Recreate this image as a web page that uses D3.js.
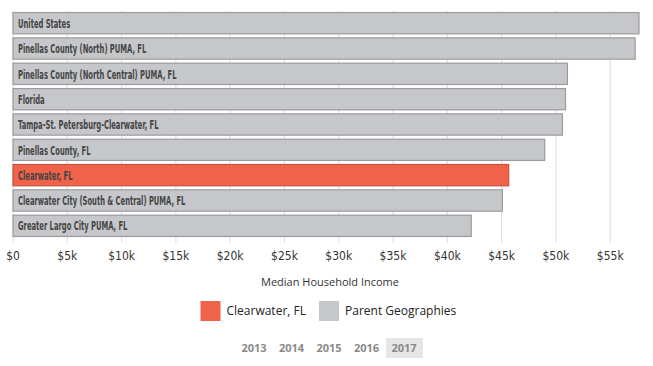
<!DOCTYPE html>
<html>
<head>
<meta charset="utf-8">
<script src="https://cdn.jsdelivr.net/npm/d3@7"></script>
<style>
  body { margin: 0; background: #fff; }
  svg { display: block; }
  .bar-label { font-family: "DejaVu Sans Condensed", sans-serif; font-size: 13px; font-weight: bold; fill: #454545; }
  .tick text { font-family: "DejaVu Sans Condensed", sans-serif; font-size: 12px; fill: #333; }
  .axis-title { font-family: "Open Sans", sans-serif; font-size: 11px; fill: #333; }
  .legend text { font-family: "Open Sans", sans-serif; font-size: 12px; fill: #222; }
  .year { font-family: "Open Sans", sans-serif; font-size: 11px; font-weight: bold; fill: #8a8a8a; }
</style>
</head>
<body>
<svg></svg>
<script>
const geographies = [
  'United States',
  'Pinellas County (North) PUMA, FL',
  'Pinellas County (North Central) PUMA, FL',
  'Florida',
  'Tampa-St. Petersburg-Clearwater, FL',
  'Pinellas County, FL',
  'Clearwater, FL',
  'Clearwater City (South & Central) PUMA, FL',
  'Greater Largo City PUMA, FL'
];
const income = [57652, 57300, 51060, 50883, 50600, 48968, 45650, 45070, 42200];
const highlight = 'Clearwater, FL';
const legendLabels = ['Clearwater, FL', 'Parent Geographies'];
const years = ['2013', '2014', '2015', '2016', '2017'];
const activeYear = '2017';

const width = 653, height = 366;
const svg = d3.select('svg').attr('width', width).attr('height', height);

const x = d3.scaleLinear().domain([0, 57652]).range([12.5, 638.5]);
const y = d3.scaleBand().domain(geographies).range([9, 240]).padding(0.12);

// gridlines + axis
const axis = svg.append('g')
  .attr('transform', 'translate(0,243)')
  .call(d3.axisBottom(x)
    .ticks(12)
    .tickSize(-232)
    .tickPadding(8)
    .tickFormat(d => d === 0 ? '$0' : '$' + d / 1000 + 'k'));
axis.select('.domain').remove();
axis.selectAll('.tick line').attr('stroke', '#e2e2e2').attr('stroke-width', 1.2);

const data = geographies.map((g, i) => ({ name: g, value: income[i] }));

svg.append('g').selectAll('rect')
  .data(data)
  .enter()
  .append('rect')
  .attr('x', x(0) + 0.5)
  .attr('y', d => y(d.name) + 0.5)
  .attr('width', d => x(d.value) - x(0))
  .attr('height', y.bandwidth() - 1)
  .attr('fill', d => d.name === highlight ? '#f0624a' : '#c6c7ca')
  .attr('stroke', d => d.name === highlight ? '#c8523d' : '#9b9b9d')
  .attr('stroke-width', 1.2);

// condensed labels: squeeze horizontally, no narrow font installed
const squeeze = 0.58;
svg.append('g')
  .attr('transform', `translate(${x(0) + 5.5},0) scale(${squeeze},1)`)
  .selectAll('text')
  .data(data)
  .enter()
  .append('text')
  .attr('class', 'bar-label')
  .attr('x', 0)
  .attr('y', d => y(d.name) + y.bandwidth() / 2)
  .attr('dy', '0.36em')
  .text(d => d.name);

svg.append('text')
  .attr('class', 'axis-title')
  .attr('x', 330)
  .attr('y', 282)
  .attr('text-anchor', 'middle')
  .attr('dy', '0.35em')
  .text('Median Household Income');

// legend
const legendColors = ['#f0624a', '#c6c7ca'];
const legendX = [200.5, 319];
const legend = svg.append('g').attr('class', 'legend');
legendLabels.forEach((l, i) => {
  legend.append('rect')
    .attr('x', legendX[i]).attr('y', 301)
    .attr('width', 20).attr('height', 20)
    .attr('fill', legendColors[i]);
  legend.append('text')
    .attr('x', legendX[i] + 26).attr('y', 311)
    .attr('dy', '0.35em')
    .text(l);
});

// year selector
const yx = d3.scalePoint().domain(years).range([254, 404]);
svg.append('rect')
  .attr('x', yx(activeYear) - 18).attr('y', 338)
  .attr('width', 37).attr('height', 20)
  .attr('fill', '#e6e6e6');
svg.append('g').selectAll('text')
  .data(years)
  .enter()
  .append('text')
  .attr('class', 'year')
  .attr('x', d => yx(d))
  .attr('y', 348)
  .attr('dy', '0.35em')
  .attr('text-anchor', 'middle')
  .text(d => d);
</script>
</body>
</html>
